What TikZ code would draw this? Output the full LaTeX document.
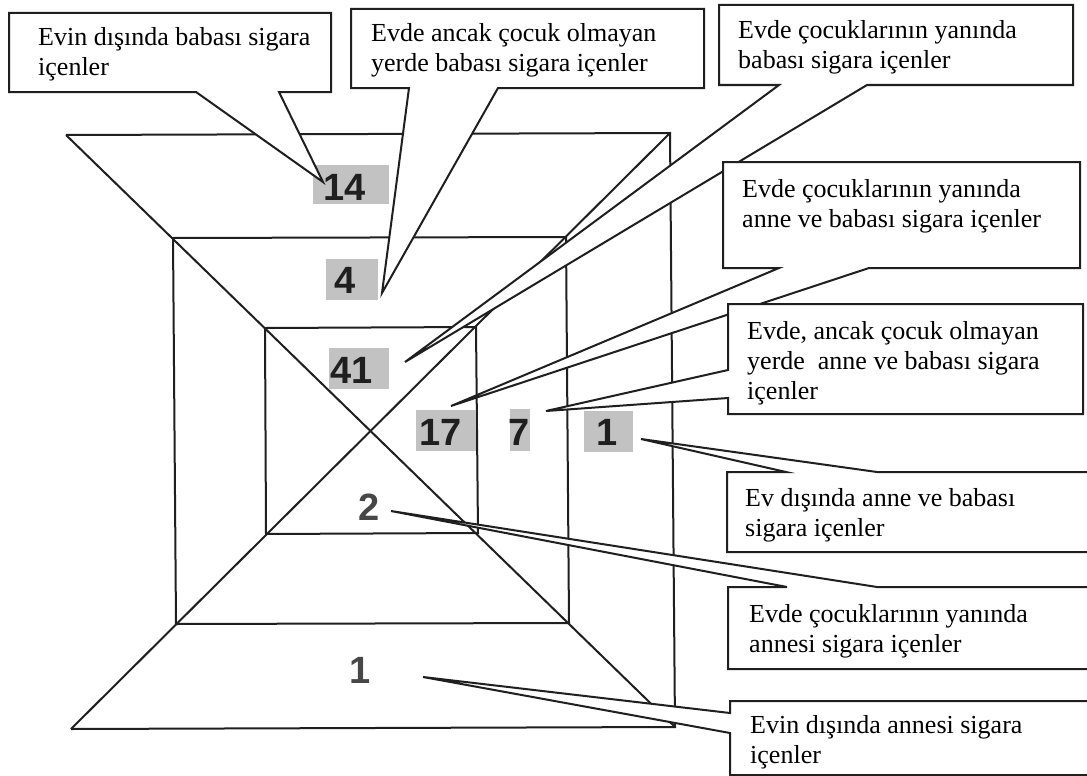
\documentclass[tikz,border=0pt]{standalone}
\usepackage{fontspec}
\setmainfont{Liberation Serif}
\newfontfamily\numfont{Liberation Sans}
\begin{document}
\begin{tikzpicture}[x=1pt,y=-1pt,
  frame/.style={line width=2pt, line join=miter, draw=black!88},
  callout/.style={draw=black!88, fill=white, line width=2pt, line join=miter},
  ctext/.style={anchor=base west, align=left, inner sep=0pt, font=\fontsize{26}{30}\selectfont},
  numtext/.style={anchor=base, inner sep=0pt, font=\numfont\bfseries\fontsize{38}{38}\selectfont, text=black!88},
  plainnum/.style={numtext, text=black!72},
  numbg/.style={fill=black!24}]
\useasboundingbox (0,0) rectangle (1087,776);
\fill[white] (0,0) rectangle (1087,776);
% frame corners
\coordinate (OTL) at (66,135);  \coordinate (OTR) at (670,133);
\coordinate (OBR) at (675,727); \coordinate (OBL) at (71,729);
\coordinate (MTL) at (173,238); \coordinate (MTR) at (566,237);
\coordinate (MBR) at (569,623); \coordinate (MBL) at (176,624);
\coordinate (ITL) at (265,328); \coordinate (ITR) at (476,327);
\coordinate (IBR) at (478,533); \coordinate (IBL) at (266,534);
\draw[frame] (OTL) -- (OTR) -- (OBR) -- (OBL);
\draw[frame] (OTL) -- (OBR);
\draw[frame] (OTR) -- (OBL);
\draw[frame] (MTL) -- (MTR) -- (MBR) -- (MBL) -- cycle;
\draw[frame] (ITL) -- (ITR) -- (IBR) -- (IBL) -- cycle;
% number labels
\fill[numbg] (313,165) rectangle (389,204);
\fill[numbg] (326,259) rectangle (378,300);
\fill[numbg] (329,348) rectangle (389,389);
\fill[numbg] (416,410) rectangle (476,451);
\fill[numbg] (510,409) rectangle (530,451);
\fill[numbg] (584,411) rectangle (633,452);
\node[numtext] (n14) at (345,200) {14};
\node[numtext] (n4) at (345,293) {4};
\node[numtext] (n41) at (351.5,383) {41};
\node[numtext] (n17) at (441,445) {17};
\node[numtext] (n7) at (519.5,445) {7};
\node[numtext] (n1r) at (607,445) {1};
\node[plainnum] (n2) at (369,520) {2};
\node[plainnum] (n1b) at (360,683) {1};
% pointer tips
\coordinate (t1) at (323,182);
\coordinate (t2) at (382,293);
\coordinate (t3) at (405,362);
\coordinate (t4) at (451,406);
\coordinate (t5) at (546,411);
\coordinate (t6) at (641,439);
\coordinate (t7) at (391,511);
\coordinate (t8) at (423,677);
% callouts
\draw[callout] (9,13) -- (331,13) -- (331,92) -- (279,92) -- (t1) -- (196,92) -- (9,92) -- cycle;
\draw[callout] (351,9) -- (704,9) -- (704,88) -- (498,88) -- (t2) -- (409,88) -- (351,88) -- cycle;
\draw[callout] (719,5) -- (1073,5) -- (1073,85) -- (867,85) -- (t3) -- (779,85) -- (719,85) -- cycle;
\draw[callout] (723,162) -- (1080,162) -- (1080,268) -- (869,268) -- (t4) -- (779,268) -- (723,268) -- cycle;
\draw[callout] (728,304) -- (1083,304) -- (1083,414) -- (728,414) -- (728,398) -- (t5) -- (728,370) -- cycle;
\draw[callout] (727,472) -- (786,472) -- (t6) -- (877,472) -- (1095,472) -- (1095,552) -- (727,552) -- cycle;
\draw[callout] (728,587) -- (787,587) -- (t7) -- (877,587) -- (1095,587) -- (1095,669) -- (728,669) -- cycle;
\draw[callout] (730,701) -- (1095,701) -- (1095,775) -- (730,775) -- (730,733) -- (t8) -- (730,713) -- cycle;
% callout texts (anchored at the baseline of the last line)
\node[ctext] (c1) at (38,76) {Evin dışında babası sigara\\içenler};
\node[ctext] (c2) at (371,71) {Evde ancak çocuk olmayan\\yerde babası sigara içenler};
\node[ctext] (c3) at (738,69) {Evde çocuklarının yanında\\babası sigara içenler};
\node[ctext] (c4) at (742,227) {Evde çocuklarının yanında\\anne ve babası sigara içenler};
\node[ctext] (c5) at (747,399) {Evde, ancak çocuk olmayan\\yerde~ anne ve babası sigara\\içenler};
\node[ctext] (c6) at (745,536) {Ev dışında anne ve babası\\sigara içenler};
\node[ctext] (c7) at (749,652) {Evde çocuklarının yanında\\annesi sigara içenler};
\node[ctext] (c8) at (750,763) {Evin dışında annesi sigara\\içenler};
\end{tikzpicture}
\end{document}
